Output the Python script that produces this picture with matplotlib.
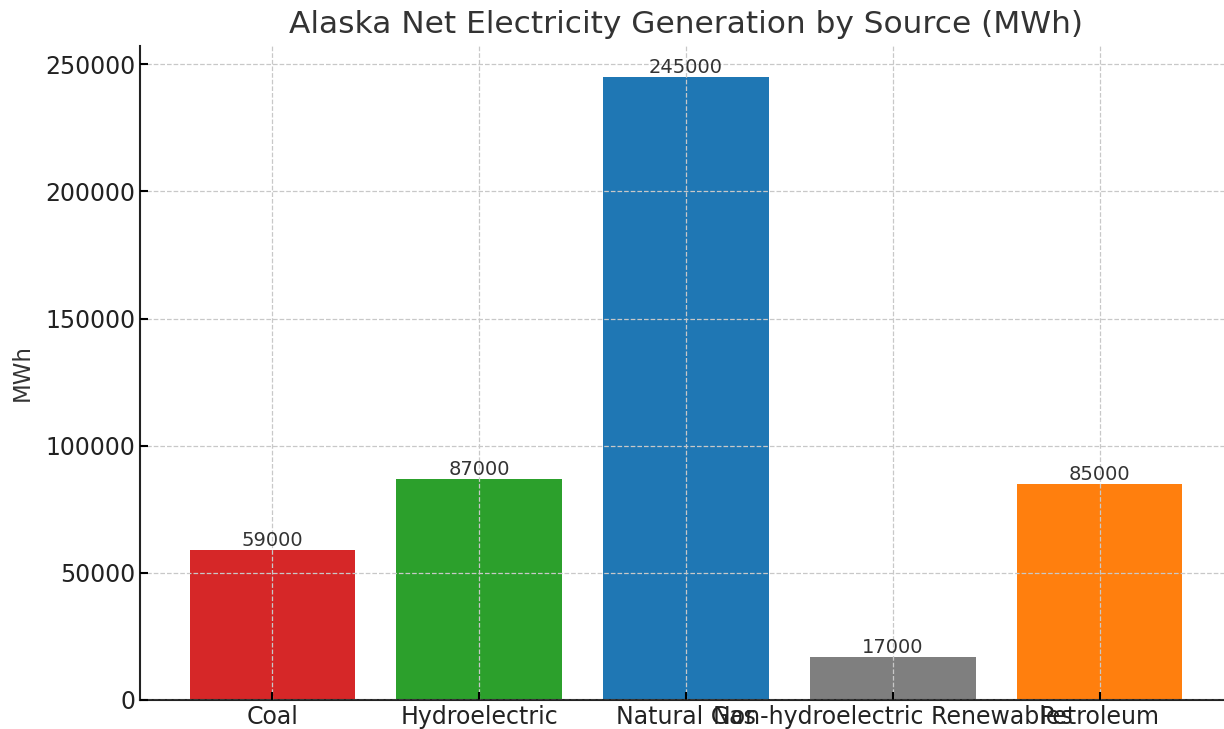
import matplotlib.pyplot as plt

sources = ['Coal', 'Hydroelectric', 'Natural Gas', 'Non-hydroelectric Renewables', 'Petroleum']
generation = [59000, 87000, 245000, 17000, 85000]
colors = ['#d62728', '#2ca02c', '#1f77b4', '#7f7f7f', '#ff7f0e']

fig = plt.figure(figsize=(12.24, 7.29), dpi=100)
ax = fig.add_axes([0.1144, 0.0398, 0.8921, 0.8972])

bars = ax.bar(sources, generation, color=colors, width=0.8)
for b, v in zip(bars, generation):
    ax.text(b.get_x() + b.get_width() / 2, v, str(v), ha='center', va='bottom',
            fontsize=14, color='#333333')

ax.set_xlim(-0.64, 4.64)
ax.set_ylim(0, 257250)
ax.set_title('Alaska Net Electricity Generation by Source (MWh)', fontsize=22.5,
             color='#333333', pad=9)
ax.set_ylabel('MWh', fontsize=16.5, color='#333333', labelpad=8)
ax.tick_params(direction='in', labelsize=17, labelcolor='#222222', length=6, width=1.5)
ax.grid(True, linestyle='--', color='#c8c8c8', linewidth=0.9)
ax.set_axisbelow(False)
for s in ['top', 'right']:
    ax.spines[s].set_visible(False)
for s in ['left', 'bottom']:
    ax.spines[s].set_linewidth(1.5)
    ax.spines[s].set_color('#222222')

fig.savefig('out.png', dpi=100)
